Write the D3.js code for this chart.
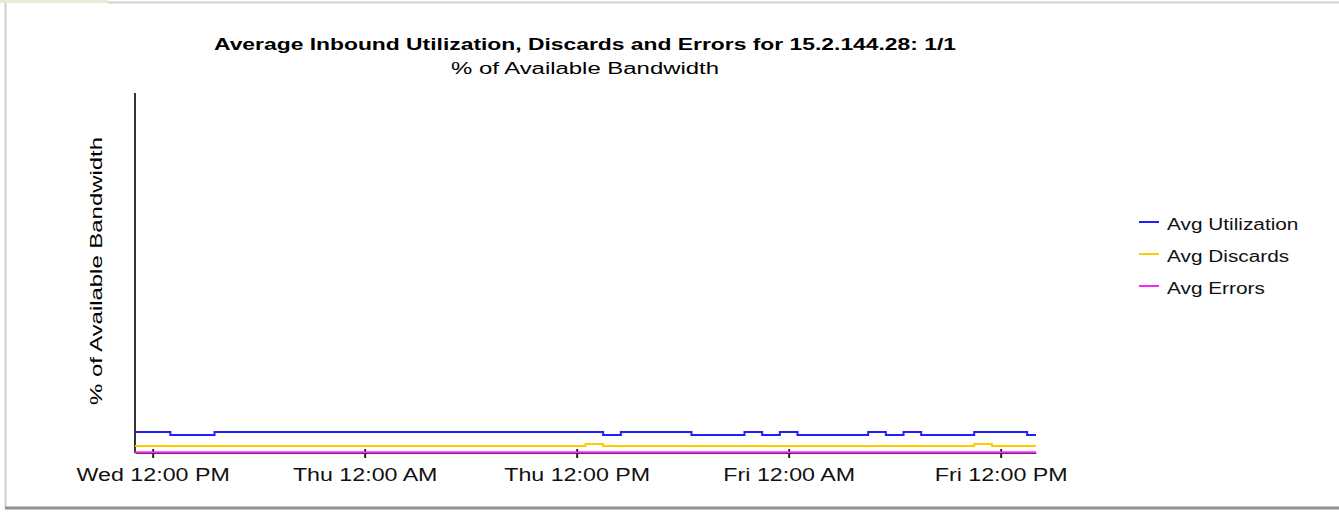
<!DOCTYPE html>
<html>
<head>
<meta charset="utf-8">
<script src="https://cdn.jsdelivr.net/npm/d3@7"></script>
<style>
  body { margin: 0; background: #fff; }
  svg { display: block; font-family: "Liberation Sans", Arial, sans-serif; }
</style>
</head>
<body>
<svg id="svg" width="1339" height="512"></svg>
<script>
var chartTitle = "Average Inbound Utilization, Discards and Errors for 15.2.144.28: 1/1";
var chartSubtitle = "% of Available Bandwidth";
var yLabel = "% of Available Bandwidth";

var seriesNames = ["Avg Utilization", "Avg Discards", "Avg Errors"];
var seriesColors = ["#1f1fff", "#ffcc00", "#ff22ff"];

// change points (value holds until next time)
var utilTimes = ["2024-01-03T11:00", "2024-01-03T13:00", "2024-01-03T15:30", "2024-01-04T13:30",
    "2024-01-04T14:30", "2024-01-04T18:30", "2024-01-04T21:30", "2024-01-04T22:30",
    "2024-01-04T23:30", "2024-01-05T00:30", "2024-01-05T04:30", "2024-01-05T05:30",
    "2024-01-05T06:30", "2024-01-05T07:30", "2024-01-05T10:30", "2024-01-05T13:30",
    "2024-01-05T14:00"];
var utilValues = [5.8, 5.0, 5.8, 5.0, 5.8, 5.0, 5.8, 5.0, 5.8, 5.0, 5.8, 5.0, 5.8, 5.0, 5.8, 5.0, 5.0];

var discTimes = ["2024-01-03T11:00", "2024-01-04T12:30", "2024-01-04T13:30",
    "2024-01-05T10:30", "2024-01-05T11:30", "2024-01-05T14:00"];
var discValues = [1.95, 2.5, 1.95, 2.5, 1.95, 1.95];

var errTimes = ["2024-01-03T11:00", "2024-01-05T14:00"];
var errValues = [0.2, 0.2];

var tickTimes = ["2024-01-03T12:00", "2024-01-04T00:00", "2024-01-04T12:00",
    "2024-01-05T00:00", "2024-01-05T12:00"];

var parse = d3.timeParse("%Y-%m-%dT%H:%M");
var series = [
    utilTimes.map(function(t, i) { return {t: parse(t), v: utilValues[i]}; }),
    discTimes.map(function(t, i) { return {t: parse(t), v: discValues[i]}; }),
    errTimes.map(function(t, i) { return {t: parse(t), v: errValues[i]}; })
];

var svg = d3.select("#svg");

// stretch text horizontally, the old chart font is wide
function widen(sel, f) {
    sel.each(function() {
        var w = this.getComputedTextLength();
        d3.select(this).attr("textLength", w * f).attr("lengthAdjust", "spacingAndGlyphs");
    });
}

// window frame
svg.append("rect").attr("x", 0).attr("y", 0).attr("width", 108).attr("height", 3).attr("fill", "#ece9d8");
svg.append("line").attr("x1", 108).attr("x2", 1339).attr("y1", 2.5).attr("y2", 2.5)
    .attr("stroke", "#d4d0c8").attr("stroke-width", 2);
svg.append("line").attr("x1", 5.5).attr("x2", 5.5).attr("y1", 3).attr("y2", 508)
    .attr("stroke", "#d4d0c8").attr("stroke-width", 2);
svg.append("line").attr("x1", 5).attr("x2", 1339).attr("y1", 508).attr("y2", 508)
    .attr("stroke", "#8f8f8f").attr("stroke-width", 3);

var plot = {left: 135, right: 1036, top: 93, bottom: 453};

var xScale = d3.scaleTime()
    .domain([parse(utilTimes[0]), parse(utilTimes[utilTimes.length - 1])])
    .range([plot.left, plot.right]);

var yScale = d3.scaleLinear()
    .domain([0, 100])
    .range([plot.bottom, plot.top]);

// titles
svg.append("text").attr("x", 585).attr("y", 50).attr("text-anchor", "middle")
    .attr("font-weight", "bold").attr("font-size", 16)
    .attr("textLength", 742).attr("lengthAdjust", "spacingAndGlyphs")
    .text(chartTitle);
svg.append("text").attr("x", 585).attr("y", 74).attr("text-anchor", "middle")
    .attr("font-size", 16)
    .attr("textLength", 268).attr("lengthAdjust", "spacingAndGlyphs")
    .text(chartSubtitle);
svg.append("text").attr("transform", "translate(102,271) rotate(-90)")
    .attr("text-anchor", "middle").attr("font-size", 17)
    .attr("textLength", 268).attr("lengthAdjust", "spacingAndGlyphs")
    .text(yLabel);

// axes
svg.append("line").attr("x1", plot.left).attr("x2", plot.left)
    .attr("y1", plot.top).attr("y2", plot.bottom)
    .attr("stroke", "#333").attr("stroke-width", 2);

var xAxis = svg.append("g")
    .attr("transform", "translate(0," + plot.bottom + ")")
    .call(d3.axisBottom(xScale)
        .tickValues(tickTimes.map(parse))
        .tickFormat(d3.timeFormat("%a %I:%M %p"))
        .tickSizeInner(5).tickSizeOuter(0).tickPadding(10));
xAxis.select(".domain").attr("stroke", "#333").attr("stroke-width", 1);
xAxis.selectAll(".tick line").attr("y1", -4).attr("stroke", "#222").attr("stroke-width", 2);
xAxis.selectAll(".tick text").attr("font-size", 18).attr("fill", "#111")
    .attr("font-family", "Liberation Sans, Arial, sans-serif");
widen(xAxis.selectAll(".tick text"), 1.29);

// lines
var line = d3.line()
    .curve(d3.curveStepAfter)
    .x(function(d) { return xScale(d.t); })
    .y(function(d) { return yScale(d.v); });

svg.append("g").selectAll("path").data(series).enter()
    .append("path")
    .attr("d", line)
    .attr("fill", "none")
    .attr("stroke", function(d, i) { return seriesColors[i]; })
    .attr("stroke-width", 2);

// legend
var legend = svg.append("g").selectAll("g").data(seriesNames).enter()
    .append("g")
    .attr("transform", function(d, i) { return "translate(1139," + (222 + i * 32) + ")"; });
legend.append("line").attr("x1", 0).attr("x2", 20).attr("y1", 0).attr("y2", 0)
    .attr("stroke", function(d, i) { return seriesColors[i]; }).attr("stroke-width", 2);
legend.append("text").attr("x", 28).attr("y", 8).attr("font-size", 16).attr("fill", "#111")
    .text(function(d) { return d; });
widen(legend.selectAll("text"), 1.3);
</script>
</body>
</html>
